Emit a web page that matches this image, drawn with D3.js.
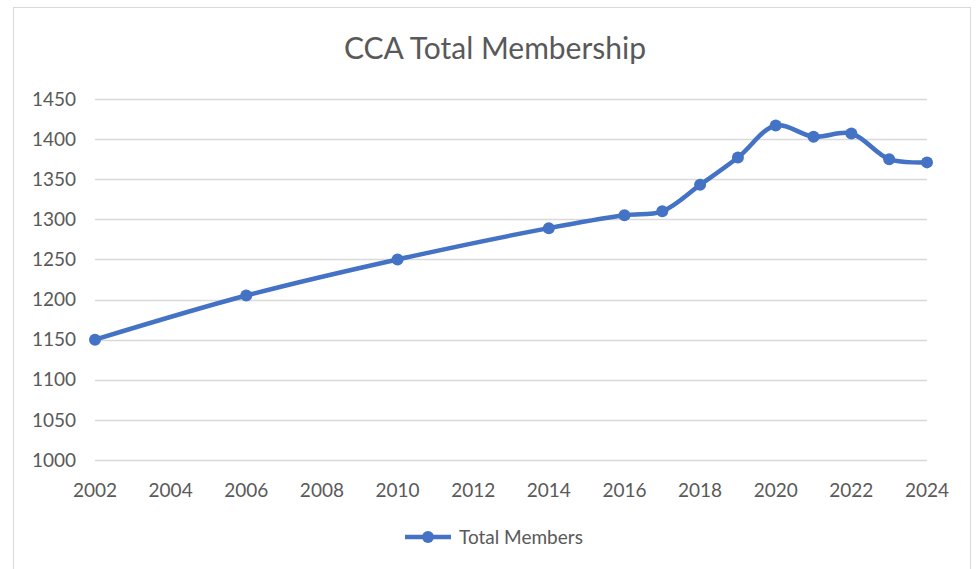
<!DOCTYPE html>
<html>
<head>
<meta charset="utf-8">
<script src="https://cdn.jsdelivr.net/npm/d3@7"></script>
<style>
  body { margin: 0; background: #fff; }
  text { font-family: Lato, "Open Sans", sans-serif; fill: #595959; }
</style>
</head>
<body>
<div id="chart"></div>
<script>
var years = [2002, 2006, 2010, 2014, 2016, 2017, 2018, 2019, 2020, 2021, 2022, 2023, 2024];
var members = [1150, 1205, 1250, 1289, 1305, 1310, 1343, 1377, 1417, 1403, 1407, 1375, 1371];
var xTicks = [2002, 2004, 2006, 2008, 2010, 2012, 2014, 2016, 2018, 2020, 2022, 2024];
var yTicks = [1000, 1050, 1100, 1150, 1200, 1250, 1300, 1350, 1400, 1450];

var width = 978, height = 569;
var color = "#4472C4";

var svg = d3.select("#chart")
    .append("svg")
    .attr("width", width)
    .attr("height", height);

// chart frame
svg.append("rect")
    .attr("x", 13.5)
    .attr("y", 7.5)
    .attr("width", 957)
    .attr("height", 575)
    .attr("fill", "#fff")
    .attr("stroke", "#d9d9d9");

var x = d3.scaleLinear()
    .domain([2002, 2024])
    .range([95, 927]);

var y = d3.scaleLinear()
    .domain([1000, 1450])
    .range([460, 99]);

// gridlines
svg.append("g")
    .selectAll("line")
    .data(yTicks)
    .enter().append("line")
    .attr("x1", 95)
    .attr("x2", 927)
    .attr("y1", function(d) { return Math.round(y(d)) + 0.5; })
    .attr("y2", function(d) { return Math.round(y(d)) + 0.5; })
    .attr("stroke", "#d9d9d9")
    .attr("stroke-width", 1.3);

// y labels
svg.append("g")
    .selectAll("text")
    .data(yTicks)
    .enter().append("text")
    .attr("x", 76)
    .attr("y", function(d) { return y(d); })
    .attr("dy", "0.35em")
    .attr("text-anchor", "end")
    .style("font-size", "19px")
    .text(function(d) { return d; });

// x labels
svg.append("g")
    .selectAll("text")
    .data(xTicks)
    .enter().append("text")
    .attr("x", function(d) { return x(d); })
    .attr("y", 490)
    .attr("dy", "0.35em")
    .attr("text-anchor", "middle")
    .style("font-size", "19px")
    .text(function(d) { return d; });

// title
svg.append("text")
    .attr("x", 495)
    .attr("y", 48)
    .attr("dy", "0.35em")
    .attr("text-anchor", "middle")
    .style("font-size", "30px")
    .text("CCA Total Membership");

var data = years.map(function(d, i) { return {year: d, value: members[i]}; });

var line = d3.line()
    .x(function(d) { return x(d.year); })
    .y(function(d) { return y(d.value); })
    .curve(d3.curveCatmullRom.alpha(0.5));

svg.append("path")
    .datum(data)
    .attr("fill", "none")
    .attr("stroke", color)
    .attr("stroke-width", 4.5)
    .attr("stroke-linejoin", "round")
    .attr("d", line);

svg.append("g")
    .selectAll("circle")
    .data(data)
    .enter().append("circle")
    .attr("cx", function(d) { return x(d.year); })
    .attr("cy", function(d) { return y(d.value); })
    .attr("r", 6)
    .attr("fill", color);

// legend
var legend = svg.append("g");
legend.append("line")
    .attr("x1", 405)
    .attr("x2", 451)
    .attr("y1", 537)
    .attr("y2", 537)
    .attr("stroke", color)
    .attr("stroke-width", 4.5);
legend.append("circle")
    .attr("cx", 428)
    .attr("cy", 537)
    .attr("r", 6)
    .attr("fill", color);
legend.append("text")
    .attr("x", 459)
    .attr("y", 537)
    .attr("dy", "0.35em")
    .style("font-size", "19px")
    .text("Total Members");
</script>
</body>
</html>
